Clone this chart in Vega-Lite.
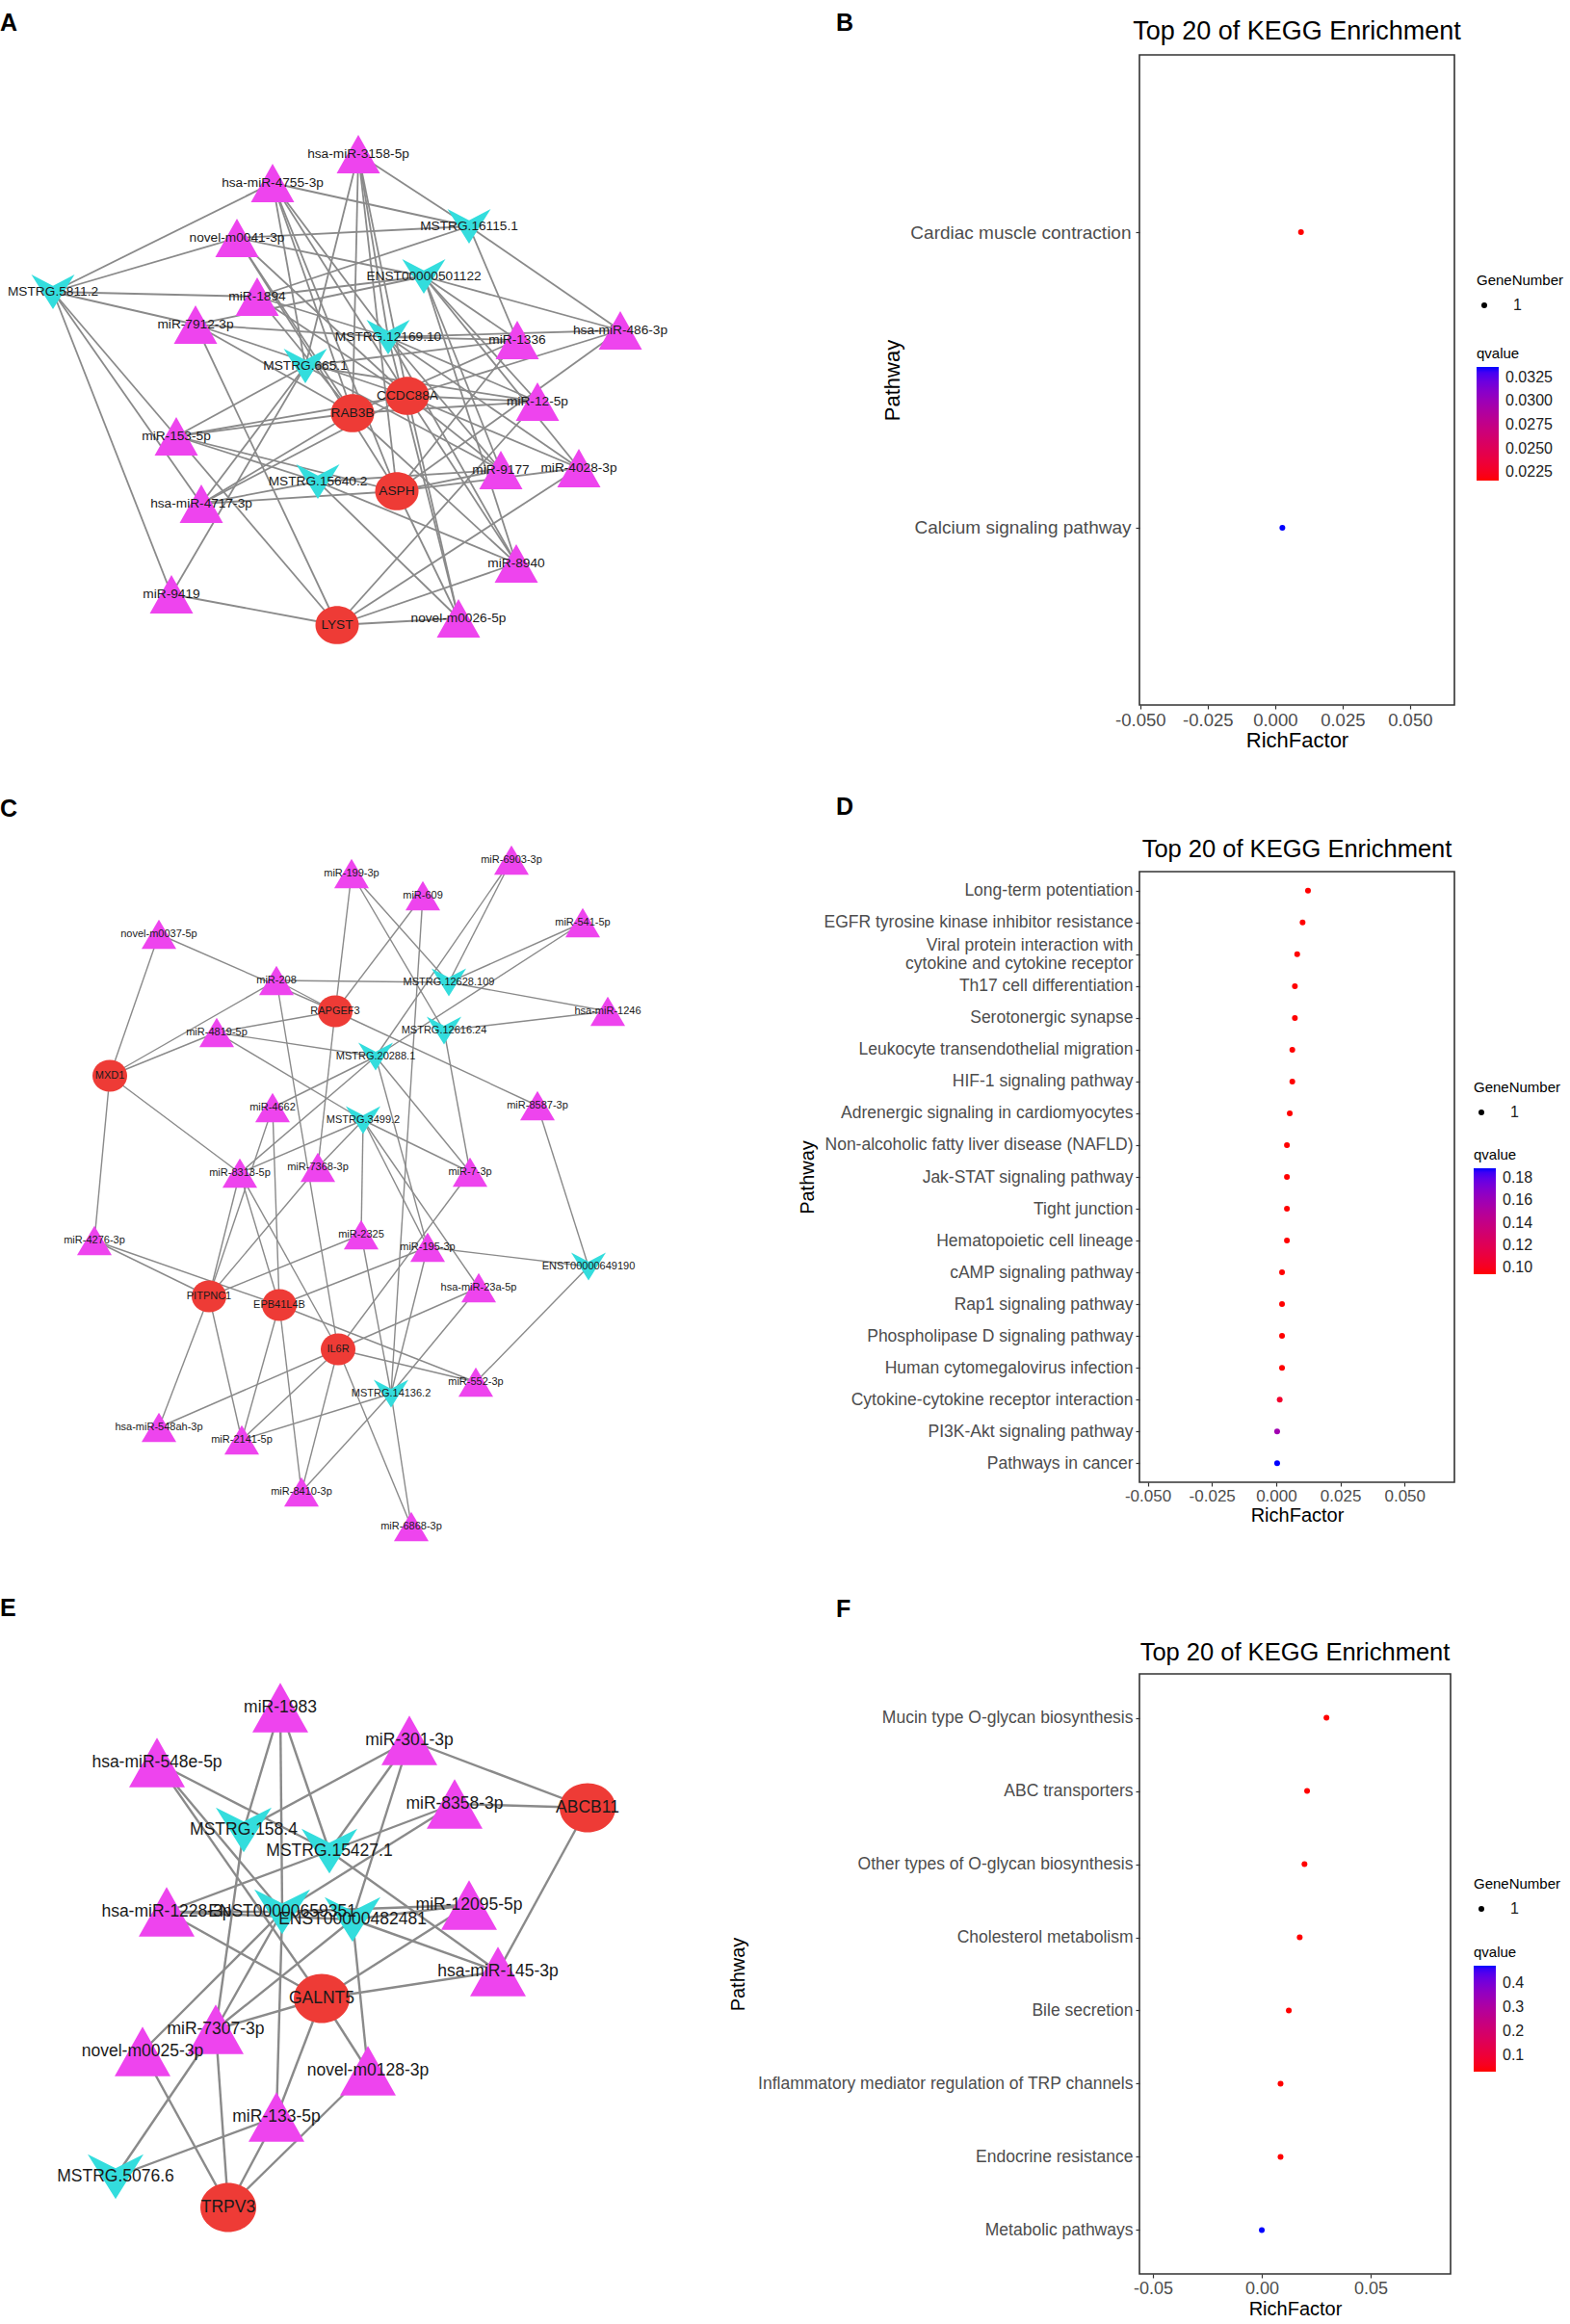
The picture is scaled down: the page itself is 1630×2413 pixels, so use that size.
{
  "$schema": "https://vega.github.io/schema/vega-lite/v6.json",
  "padding": 0,
  "background": "white",
  "config": {
    "font": "Liberation Sans",
    "view": {"stroke": null},
    "legend": {"symbolBaseFillColor": "black", "symbolBaseStrokeColor": "black"}
  },
  "datasets": {
    "nodesA": [
      {"id": "hsa-miR-3158-5p", "type": "mirna", "x": 372, "y": 160},
      {"id": "hsa-miR-4755-3p", "type": "mirna", "x": 283, "y": 190},
      {"id": "novel-m0041-3p", "type": "mirna", "x": 246, "y": 247},
      {"id": "miR-1894", "type": "mirna", "x": 267, "y": 308},
      {"id": "miR-7912-3p", "type": "mirna", "x": 203, "y": 337},
      {"id": "miR-1336", "type": "mirna", "x": 537, "y": 353},
      {"id": "hsa-miR-486-3p", "type": "mirna", "x": 644, "y": 343},
      {"id": "miR-12-5p", "type": "mirna", "x": 558, "y": 417},
      {"id": "miR-153-5p", "type": "mirna", "x": 183, "y": 453},
      {"id": "miR-9177", "type": "mirna", "x": 520, "y": 488},
      {"id": "miR-4028-3p", "type": "mirna", "x": 601, "y": 486},
      {"id": "hsa-miR-4717-3p", "type": "mirna", "x": 209, "y": 523},
      {"id": "miR-8940", "type": "mirna", "x": 536, "y": 585},
      {"id": "miR-9419", "type": "mirna", "x": 178, "y": 617},
      {"id": "novel-m0026-5p", "type": "mirna", "x": 476, "y": 642},
      {"id": "MSTRG.16115.1", "type": "lnc", "x": 487, "y": 235},
      {"id": "ENST00000501122", "type": "lnc", "x": 440, "y": 287},
      {"id": "MSTRG.5811.2", "type": "lnc", "x": 55, "y": 303},
      {"id": "MSTRG.12169.10", "type": "lnc", "x": 403, "y": 350},
      {"id": "MSTRG.665.1", "type": "lnc", "x": 317, "y": 380},
      {"id": "MSTRG.15640.2", "type": "lnc", "x": 330, "y": 500},
      {"id": "CCDC88A", "type": "mrna", "x": 423, "y": 411},
      {"id": "RAB3B", "type": "mrna", "x": 366, "y": 429},
      {"id": "ASPH", "type": "mrna", "x": 412, "y": 510},
      {"id": "LYST", "type": "mrna", "x": 350, "y": 649}
    ],
    "edgesA": [
      {"s": "hsa-miR-3158-5p", "t": "MSTRG.16115.1"}, {"s": "hsa-miR-3158-5p", "t": "MSTRG.12169.10"}, {"s": "hsa-miR-3158-5p", "t": "MSTRG.665.1"}, {"s": "hsa-miR-3158-5p", "t": "CCDC88A"}, {"s": "hsa-miR-3158-5p", "t": "RAB3B"}, {"s": "hsa-miR-3158-5p", "t": "ASPH"},
      {"s": "hsa-miR-4755-3p", "t": "MSTRG.5811.2"}, {"s": "hsa-miR-4755-3p", "t": "MSTRG.16115.1"}, {"s": "hsa-miR-4755-3p", "t": "MSTRG.12169.10"}, {"s": "hsa-miR-4755-3p", "t": "MSTRG.665.1"}, {"s": "hsa-miR-4755-3p", "t": "RAB3B"}, {"s": "hsa-miR-4755-3p", "t": "CCDC88A"}, {"s": "hsa-miR-4755-3p", "t": "ASPH"},
      {"s": "novel-m0041-3p", "t": "MSTRG.5811.2"}, {"s": "novel-m0041-3p", "t": "MSTRG.16115.1"}, {"s": "novel-m0041-3p", "t": "ENST00000501122"}, {"s": "novel-m0041-3p", "t": "RAB3B"}, {"s": "novel-m0041-3p", "t": "CCDC88A"}, {"s": "novel-m0041-3p", "t": "ASPH"},
      {"s": "miR-1894", "t": "MSTRG.5811.2"}, {"s": "miR-1894", "t": "MSTRG.16115.1"}, {"s": "miR-1894", "t": "ENST00000501122"}, {"s": "miR-1894", "t": "MSTRG.12169.10"}, {"s": "miR-1894", "t": "RAB3B"}, {"s": "miR-1894", "t": "CCDC88A"},
      {"s": "miR-7912-3p", "t": "MSTRG.5811.2"}, {"s": "miR-7912-3p", "t": "ENST00000501122"}, {"s": "miR-7912-3p", "t": "MSTRG.12169.10"}, {"s": "miR-7912-3p", "t": "RAB3B"}, {"s": "miR-7912-3p", "t": "CCDC88A"}, {"s": "miR-7912-3p", "t": "LYST"},
      {"s": "miR-1336", "t": "MSTRG.16115.1"}, {"s": "miR-1336", "t": "ENST00000501122"}, {"s": "miR-1336", "t": "MSTRG.12169.10"}, {"s": "miR-1336", "t": "MSTRG.665.1"}, {"s": "miR-1336", "t": "RAB3B"}, {"s": "miR-1336", "t": "ASPH"},
      {"s": "hsa-miR-486-3p", "t": "MSTRG.16115.1"}, {"s": "hsa-miR-486-3p", "t": "ENST00000501122"}, {"s": "hsa-miR-486-3p", "t": "MSTRG.12169.10"}, {"s": "hsa-miR-486-3p", "t": "CCDC88A"}, {"s": "hsa-miR-486-3p", "t": "ASPH"},
      {"s": "miR-12-5p", "t": "ENST00000501122"}, {"s": "miR-12-5p", "t": "MSTRG.12169.10"}, {"s": "miR-12-5p", "t": "MSTRG.665.1"}, {"s": "miR-12-5p", "t": "RAB3B"}, {"s": "miR-12-5p", "t": "CCDC88A"}, {"s": "miR-12-5p", "t": "LYST"},
      {"s": "miR-153-5p", "t": "MSTRG.5811.2"}, {"s": "miR-153-5p", "t": "MSTRG.665.1"}, {"s": "miR-153-5p", "t": "MSTRG.15640.2"}, {"s": "miR-153-5p", "t": "RAB3B"}, {"s": "miR-153-5p", "t": "CCDC88A"}, {"s": "miR-153-5p", "t": "ASPH"}, {"s": "miR-153-5p", "t": "LYST"},
      {"s": "miR-9177", "t": "ENST00000501122"}, {"s": "miR-9177", "t": "MSTRG.12169.10"}, {"s": "miR-9177", "t": "MSTRG.665.1"}, {"s": "miR-9177", "t": "MSTRG.15640.2"}, {"s": "miR-9177", "t": "CCDC88A"}, {"s": "miR-9177", "t": "ASPH"},
      {"s": "miR-4028-3p", "t": "ENST00000501122"}, {"s": "miR-4028-3p", "t": "MSTRG.12169.10"}, {"s": "miR-4028-3p", "t": "CCDC88A"}, {"s": "miR-4028-3p", "t": "ASPH"}, {"s": "miR-4028-3p", "t": "LYST"},
      {"s": "hsa-miR-4717-3p", "t": "MSTRG.5811.2"}, {"s": "hsa-miR-4717-3p", "t": "MSTRG.665.1"}, {"s": "hsa-miR-4717-3p", "t": "MSTRG.15640.2"}, {"s": "hsa-miR-4717-3p", "t": "RAB3B"}, {"s": "hsa-miR-4717-3p", "t": "CCDC88A"}, {"s": "hsa-miR-4717-3p", "t": "ASPH"},
      {"s": "miR-8940", "t": "ENST00000501122"}, {"s": "miR-8940", "t": "MSTRG.12169.10"}, {"s": "miR-8940", "t": "MSTRG.15640.2"}, {"s": "miR-8940", "t": "RAB3B"}, {"s": "miR-8940", "t": "CCDC88A"}, {"s": "miR-8940", "t": "LYST"},
      {"s": "miR-9419", "t": "MSTRG.5811.2"}, {"s": "miR-9419", "t": "MSTRG.665.1"}, {"s": "miR-9419", "t": "LYST"},
      {"s": "novel-m0026-5p", "t": "MSTRG.12169.10"}, {"s": "novel-m0026-5p", "t": "MSTRG.15640.2"}, {"s": "novel-m0026-5p", "t": "CCDC88A"}, {"s": "novel-m0026-5p", "t": "ASPH"}, {"s": "novel-m0026-5p", "t": "LYST"}
    ],
    "nodesC": [
      {"id": "miR-199-3p", "type": "mirna", "x": 365, "y": 907},
      {"id": "miR-6903-3p", "type": "mirna", "x": 531, "y": 893},
      {"id": "miR-609", "type": "mirna", "x": 439, "y": 930},
      {"id": "miR-541-5p", "type": "mirna", "x": 605, "y": 958},
      {"id": "novel-m0037-5p", "type": "mirna", "x": 165, "y": 970},
      {"id": "miR-208", "type": "mirna", "x": 287, "y": 1018},
      {"id": "hsa-miR-1246", "type": "mirna", "x": 631, "y": 1050},
      {"id": "miR-4819-5p", "type": "mirna", "x": 225, "y": 1072},
      {"id": "miR-4662", "type": "mirna", "x": 283, "y": 1150},
      {"id": "miR-8587-3p", "type": "mirna", "x": 558, "y": 1148},
      {"id": "miR-8313-5p", "type": "mirna", "x": 249, "y": 1218},
      {"id": "miR-7368-3p", "type": "mirna", "x": 330, "y": 1212},
      {"id": "miR-7-3p", "type": "mirna", "x": 488, "y": 1217},
      {"id": "miR-4276-3p", "type": "mirna", "x": 98, "y": 1288},
      {"id": "miR-2325", "type": "mirna", "x": 375, "y": 1282},
      {"id": "miR-195-3p", "type": "mirna", "x": 444, "y": 1295},
      {"id": "hsa-miR-23a-5p", "type": "mirna", "x": 497, "y": 1337},
      {"id": "miR-552-3p", "type": "mirna", "x": 494, "y": 1435},
      {"id": "hsa-miR-548ah-3p", "type": "mirna", "x": 165, "y": 1482},
      {"id": "miR-2141-5p", "type": "mirna", "x": 251, "y": 1495},
      {"id": "miR-8410-3p", "type": "mirna", "x": 313, "y": 1549},
      {"id": "miR-6868-3p", "type": "mirna", "x": 427, "y": 1585},
      {"id": "MSTRG.12628.109", "type": "lnc", "x": 466, "y": 1020},
      {"id": "MSTRG.12616.24", "type": "lnc", "x": 461, "y": 1070},
      {"id": "MSTRG.20288.1", "type": "lnc", "x": 390, "y": 1097},
      {"id": "MSTRG.3499.2", "type": "lnc", "x": 377, "y": 1163},
      {"id": "ENST00000649190", "type": "lnc", "x": 611, "y": 1315},
      {"id": "MSTRG.14136.2", "type": "lnc", "x": 406, "y": 1447},
      {"id": "RAPGEF3", "type": "mrna", "x": 348, "y": 1050},
      {"id": "MXD1", "type": "mrna", "x": 114, "y": 1117},
      {"id": "PITPNC1", "type": "mrna", "x": 217, "y": 1346},
      {"id": "EPB41L4B", "type": "mrna", "x": 290, "y": 1355},
      {"id": "IL6R", "type": "mrna", "x": 351, "y": 1401}
    ],
    "edgesC": [
      {"s": "miR-199-3p", "t": "RAPGEF3"}, {"s": "miR-199-3p", "t": "MSTRG.12628.109"}, {"s": "miR-199-3p", "t": "MSTRG.12616.24"},
      {"s": "miR-6903-3p", "t": "MSTRG.12628.109"}, {"s": "miR-6903-3p", "t": "MSTRG.20288.1"},
      {"s": "miR-609", "t": "RAPGEF3"}, {"s": "miR-609", "t": "MSTRG.14136.2"},
      {"s": "miR-541-5p", "t": "MSTRG.12628.109"}, {"s": "miR-541-5p", "t": "MSTRG.20288.1"},
      {"s": "novel-m0037-5p", "t": "MXD1"}, {"s": "novel-m0037-5p", "t": "RAPGEF3"},
      {"s": "miR-208", "t": "MXD1"}, {"s": "miR-208", "t": "MSTRG.12628.109"}, {"s": "miR-208", "t": "RAPGEF3"}, {"s": "miR-208", "t": "IL6R"},
      {"s": "hsa-miR-1246", "t": "MSTRG.12628.109"}, {"s": "hsa-miR-1246", "t": "MSTRG.12616.24"},
      {"s": "miR-4819-5p", "t": "MXD1"}, {"s": "miR-4819-5p", "t": "RAPGEF3"}, {"s": "miR-4819-5p", "t": "MSTRG.20288.1"}, {"s": "miR-4819-5p", "t": "MSTRG.3499.2"},
      {"s": "miR-4662", "t": "MSTRG.20288.1"}, {"s": "miR-4662", "t": "EPB41L4B"}, {"s": "miR-4662", "t": "PITPNC1"},
      {"s": "miR-8587-3p", "t": "RAPGEF3"}, {"s": "miR-8587-3p", "t": "ENST00000649190"},
      {"s": "miR-8313-5p", "t": "MXD1"}, {"s": "miR-8313-5p", "t": "MSTRG.20288.1"}, {"s": "miR-8313-5p", "t": "MSTRG.3499.2"}, {"s": "miR-8313-5p", "t": "PITPNC1"}, {"s": "miR-8313-5p", "t": "EPB41L4B"}, {"s": "miR-8313-5p", "t": "IL6R"},
      {"s": "miR-7368-3p", "t": "RAPGEF3"}, {"s": "miR-7368-3p", "t": "MSTRG.3499.2"}, {"s": "miR-7368-3p", "t": "PITPNC1"},
      {"s": "miR-7-3p", "t": "MSTRG.20288.1"}, {"s": "miR-7-3p", "t": "MSTRG.3499.2"}, {"s": "miR-7-3p", "t": "MSTRG.12616.24"}, {"s": "miR-7-3p", "t": "IL6R"},
      {"s": "miR-4276-3p", "t": "MXD1"}, {"s": "miR-4276-3p", "t": "PITPNC1"}, {"s": "miR-4276-3p", "t": "EPB41L4B"},
      {"s": "miR-2325", "t": "MSTRG.3499.2"}, {"s": "miR-2325", "t": "PITPNC1"}, {"s": "miR-2325", "t": "MSTRG.14136.2"},
      {"s": "miR-195-3p", "t": "MSTRG.3499.2"}, {"s": "miR-195-3p", "t": "ENST00000649190"}, {"s": "miR-195-3p", "t": "EPB41L4B"}, {"s": "miR-195-3p", "t": "MSTRG.14136.2"}, {"s": "miR-195-3p", "t": "MSTRG.20288.1"},
      {"s": "hsa-miR-23a-5p", "t": "IL6R"}, {"s": "hsa-miR-23a-5p", "t": "MSTRG.14136.2"}, {"s": "hsa-miR-23a-5p", "t": "MSTRG.3499.2"},
      {"s": "miR-552-3p", "t": "IL6R"}, {"s": "miR-552-3p", "t": "EPB41L4B"}, {"s": "miR-552-3p", "t": "ENST00000649190"},
      {"s": "hsa-miR-548ah-3p", "t": "PITPNC1"}, {"s": "hsa-miR-548ah-3p", "t": "IL6R"},
      {"s": "miR-2141-5p", "t": "PITPNC1"}, {"s": "miR-2141-5p", "t": "EPB41L4B"}, {"s": "miR-2141-5p", "t": "IL6R"}, {"s": "miR-2141-5p", "t": "MSTRG.14136.2"},
      {"s": "miR-8410-3p", "t": "EPB41L4B"}, {"s": "miR-8410-3p", "t": "IL6R"}, {"s": "miR-8410-3p", "t": "MSTRG.14136.2"},
      {"s": "miR-6868-3p", "t": "IL6R"}, {"s": "miR-6868-3p", "t": "MSTRG.14136.2"}
    ],
    "nodesE": [
      {"id": "miR-1983", "type": "mirna", "x": 291, "y": 1773},
      {"id": "miR-301-3p", "type": "mirna", "x": 425, "y": 1807},
      {"id": "hsa-miR-548e-5p", "type": "mirna", "x": 163, "y": 1830},
      {"id": "miR-8358-3p", "type": "mirna", "x": 472, "y": 1873},
      {"id": "miR-12095-5p", "type": "mirna", "x": 487, "y": 1978},
      {"id": "hsa-miR-1228-3p", "type": "mirna", "x": 173, "y": 1985},
      {"id": "hsa-miR-145-3p", "type": "mirna", "x": 517, "y": 2047},
      {"id": "miR-7307-3p", "type": "mirna", "x": 224, "y": 2107},
      {"id": "novel-m0025-3p", "type": "mirna", "x": 148, "y": 2130},
      {"id": "novel-m0128-3p", "type": "mirna", "x": 382, "y": 2150},
      {"id": "miR-133-5p", "type": "mirna", "x": 287, "y": 2198},
      {"id": "MSTRG.158.4", "type": "lnc", "x": 253, "y": 1900},
      {"id": "MSTRG.15427.1", "type": "lnc", "x": 342, "y": 1922},
      {"id": "ENST00000659351", "type": "lnc", "x": 293, "y": 1985},
      {"id": "ENST00000482481", "type": "lnc", "x": 366, "y": 1993},
      {"id": "MSTRG.5076.6", "type": "lnc", "x": 120, "y": 2260},
      {"id": "ABCB11", "type": "mrna", "x": 610, "y": 1877},
      {"id": "GALNT5", "type": "mrna", "x": 334, "y": 2075},
      {"id": "TRPV3", "type": "mrna", "x": 237, "y": 2292}
    ],
    "edgesE": [
      {"s": "miR-1983", "t": "MSTRG.158.4"}, {"s": "miR-1983", "t": "ENST00000659351"}, {"s": "miR-1983", "t": "MSTRG.15427.1"},
      {"s": "miR-301-3p", "t": "ABCB11"}, {"s": "miR-301-3p", "t": "MSTRG.158.4"}, {"s": "miR-301-3p", "t": "MSTRG.15427.1"}, {"s": "miR-301-3p", "t": "ENST00000482481"},
      {"s": "hsa-miR-548e-5p", "t": "MSTRG.15427.1"}, {"s": "hsa-miR-548e-5p", "t": "ENST00000659351"}, {"s": "hsa-miR-548e-5p", "t": "GALNT5"},
      {"s": "miR-8358-3p", "t": "ABCB11"}, {"s": "miR-8358-3p", "t": "MSTRG.15427.1"}, {"s": "miR-8358-3p", "t": "ENST00000659351"},
      {"s": "miR-12095-5p", "t": "ENST00000482481"}, {"s": "miR-12095-5p", "t": "ENST00000659351"}, {"s": "miR-12095-5p", "t": "GALNT5"},
      {"s": "hsa-miR-1228-3p", "t": "ENST00000659351"}, {"s": "hsa-miR-1228-3p", "t": "MSTRG.15427.1"}, {"s": "hsa-miR-1228-3p", "t": "GALNT5"}, {"s": "hsa-miR-1228-3p", "t": "ENST00000482481"},
      {"s": "hsa-miR-145-3p", "t": "GALNT5"}, {"s": "hsa-miR-145-3p", "t": "MSTRG.15427.1"}, {"s": "hsa-miR-145-3p", "t": "ENST00000482481"}, {"s": "hsa-miR-145-3p", "t": "ABCB11"},
      {"s": "miR-7307-3p", "t": "GALNT5"}, {"s": "miR-7307-3p", "t": "MSTRG.158.4"}, {"s": "miR-7307-3p", "t": "ENST00000659351"}, {"s": "miR-7307-3p", "t": "TRPV3"}, {"s": "miR-7307-3p", "t": "ENST00000482481"}, {"s": "miR-7307-3p", "t": "MSTRG.5076.6"},
      {"s": "novel-m0025-3p", "t": "ENST00000659351"}, {"s": "novel-m0025-3p", "t": "TRPV3"},
      {"s": "novel-m0128-3p", "t": "GALNT5"}, {"s": "novel-m0128-3p", "t": "ENST00000482481"}, {"s": "novel-m0128-3p", "t": "TRPV3"},
      {"s": "miR-133-5p", "t": "GALNT5"}, {"s": "miR-133-5p", "t": "ENST00000659351"}, {"s": "miR-133-5p", "t": "MSTRG.5076.6"}, {"s": "miR-133-5p", "t": "TRPV3"}
    ],
    "keggB": [
      {"pathway": "Cardiac muscle contraction", "RichFactor": 0.0096, "qvalue": 0.0216, "GeneNumber": 1},
      {"pathway": "Calcium signaling pathway", "RichFactor": 0.0027, "qvalue": 0.0336, "GeneNumber": 1}
    ],
    "keggD": [
      {"pathway": "Long-term potentiation", "RichFactor": 0.0124, "qvalue": 0.094, "GeneNumber": 1},
      {"pathway": "EGFR tyrosine kinase inhibitor resistance", "RichFactor": 0.0103, "qvalue": 0.094, "GeneNumber": 1},
      {"pathway": "Viral protein interaction with\ncytokine and cytokine receptor", "RichFactor": 0.0082, "qvalue": 0.094, "GeneNumber": 1},
      {"pathway": "Th17 cell differentiation", "RichFactor": 0.0073, "qvalue": 0.094, "GeneNumber": 1},
      {"pathway": "Serotonergic synapse", "RichFactor": 0.0073, "qvalue": 0.094, "GeneNumber": 1},
      {"pathway": "Leukocyte transendothelial migration", "RichFactor": 0.0063, "qvalue": 0.094, "GeneNumber": 1},
      {"pathway": "HIF-1 signaling pathway", "RichFactor": 0.0063, "qvalue": 0.094, "GeneNumber": 1},
      {"pathway": "Adrenergic signaling in cardiomyocytes", "RichFactor": 0.0053, "qvalue": 0.094, "GeneNumber": 1},
      {"pathway": "Non-alcoholic fatty liver disease (NAFLD)", "RichFactor": 0.0042, "qvalue": 0.094, "GeneNumber": 1},
      {"pathway": "Jak-STAT signaling pathway", "RichFactor": 0.0042, "qvalue": 0.094, "GeneNumber": 1},
      {"pathway": "Tight junction", "RichFactor": 0.0042, "qvalue": 0.094, "GeneNumber": 1},
      {"pathway": "Hematopoietic cell lineage", "RichFactor": 0.0042, "qvalue": 0.094, "GeneNumber": 1},
      {"pathway": "cAMP signaling pathway", "RichFactor": 0.0023, "qvalue": 0.094, "GeneNumber": 1},
      {"pathway": "Rap1 signaling pathway", "RichFactor": 0.0023, "qvalue": 0.094, "GeneNumber": 1},
      {"pathway": "Phospholipase D signaling pathway", "RichFactor": 0.0023, "qvalue": 0.094, "GeneNumber": 1},
      {"pathway": "Human cytomegalovirus infection", "RichFactor": 0.0023, "qvalue": 0.094, "GeneNumber": 1},
      {"pathway": "Cytokine-cytokine receptor interaction", "RichFactor": 0.0014, "qvalue": 0.105, "GeneNumber": 1},
      {"pathway": "PI3K-Akt signaling pathway", "RichFactor": 0.0004, "qvalue": 0.158, "GeneNumber": 1},
      {"pathway": "Pathways in cancer", "RichFactor": 0.0004, "qvalue": 0.1886, "GeneNumber": 1}
    ],
    "keggF": [
      {"pathway": "Mucin type O-glycan biosynthesis", "RichFactor": 0.0297, "qvalue": 0.032, "GeneNumber": 1},
      {"pathway": "ABC transporters", "RichFactor": 0.0208, "qvalue": 0.032, "GeneNumber": 1},
      {"pathway": "Other types of O-glycan biosynthesis", "RichFactor": 0.0196, "qvalue": 0.032, "GeneNumber": 1},
      {"pathway": "Cholesterol metabolism", "RichFactor": 0.0174, "qvalue": 0.032, "GeneNumber": 1},
      {"pathway": "Bile secretion", "RichFactor": 0.0124, "qvalue": 0.032, "GeneNumber": 1},
      {"pathway": "Inflammatory mediator regulation of TRP channels", "RichFactor": 0.0086, "qvalue": 0.032, "GeneNumber": 1},
      {"pathway": "Endocrine resistance", "RichFactor": 0.0086, "qvalue": 0.032, "GeneNumber": 1},
      {"pathway": "Metabolic pathways", "RichFactor": 0.0, "qvalue": 0.472, "GeneNumber": 1}
    ]
  },
  "bounds": "flush",
  "spacing": 0,
  "resolve": {
    "scale": {"x": "independent", "y": "independent", "color": "independent", "shape": "independent", "size": "independent"},
    "legend": {"color": "independent", "size": "independent", "shape": "independent"}
  },
  "vconcat": [
    {
      "width": 327, "height": 57,
      "data": {"values": [{"letter": "A", "x": 0, "y": 24}, {"letter": "B", "x": 868, "y": 24}]},
      "mark": {"type": "text", "fontSize": 25, "fontWeight": "bold", "color": "black", "align": "left"},
      "encoding": {
        "x": {"field": "x", "type": "quantitative", "scale": {"domain": [1183, 1510], "nice": false, "zero": false}, "axis": null},
        "y": {"field": "y", "type": "quantitative", "scale": {"domain": [0, 57], "reverse": true, "nice": false, "zero": false}, "axis": null},
        "text": {"field": "letter"}
      }
    },
    {
      "width": 327, "height": 675,
      "view": {"stroke": "#333333", "strokeWidth": 1.6, "fill": "white"},
      "title": {"text": "Top 20 of KEGG Enrichment", "frame": "group", "fontSize": 27, "fontWeight": "normal", "color": "black", "anchor": "middle", "offset": 10},
      "resolve": {
        "scale": {"x": "independent", "y": "independent", "color": "independent", "shape": "independent", "size": "independent"},
        "axis": {"x": "independent", "y": "independent"},
        "legend": {"color": "independent", "size": "independent", "shape": "independent"}
      },
      "layer": [
        {
          "data": {"name": "edgesA"},
          "transform": [
            {"lookup": "s", "from": {"data": {"name": "nodesA"}, "key": "id", "fields": ["x", "y"]}, "as": ["sx", "sy"]},
            {"lookup": "t", "from": {"data": {"name": "nodesA"}, "key": "id", "fields": ["x", "y"]}, "as": ["tx", "ty"]}
          ],
          "mark": {"type": "rule", "color": "#8a8a8a", "strokeWidth": 1.8},
          "encoding": {
            "x": {"field": "sx", "type": "quantitative", "scale": {"domain": [1183, 1510], "nice": false, "zero": false}, "axis": null},
            "y": {"field": "sy", "type": "quantitative", "scale": {"domain": [57, 732], "reverse": true, "nice": false, "zero": false}, "axis": null},
            "x2": {"field": "tx"},
            "y2": {"field": "ty"}
          }
        },
        {
          "data": {"name": "nodesA"},
          "mark": {"type": "point", "filled": true, "opacity": 1, "size": 2025, "strokeWidth": 0},
          "encoding": {
            "x": {"field": "x", "type": "quantitative", "scale": {"domain": [1183, 1510], "nice": false, "zero": false}, "axis": null},
            "y": {"field": "y", "type": "quantitative", "scale": {"domain": [57, 732], "reverse": true, "nice": false, "zero": false}, "axis": null},
            "shape": {"field": "type", "type": "nominal", "scale": {"domain": ["mirna", "lnc", "mrna"], "range": ["M0,-0.89L1,0.89L-1,0.89Z", "M-1,-0.8L0,-0.28L1,-0.8L0,0.8Z", "M-1,0A1,0.88,0,1,1,1,0A1,0.88,0,1,1,-1,0Z"]}, "legend": null},
            "color": {"field": "type", "type": "nominal", "scale": {"domain": ["mirna", "lnc", "mrna"], "range": ["#EE44EE", "#33DDDD", "#EE3B36"]}, "legend": null}
          }
        },
        {
          "data": {"name": "nodesA"},
          "mark": {"type": "text", "fontSize": 13.7, "color": "#1a1a1a"},
          "encoding": {
            "x": {"field": "x", "type": "quantitative", "scale": {"domain": [1183, 1510], "nice": false, "zero": false}, "axis": null},
            "y": {"field": "y", "type": "quantitative", "scale": {"domain": [57, 732], "reverse": true, "nice": false, "zero": false}, "axis": null},
            "text": {"field": "id"}
          }
        },
        {
          "data": {"name": "keggB"},
          "mark": {"type": "circle", "opacity": 1},
          "encoding": {
            "x": {
              "field": "RichFactor", "type": "quantitative",
              "scale": {"domain": [-0.0503, 0.0665], "nice": false, "zero": false},
              "axis": {
                "title": "RichFactor",
                "values": [-0.05, -0.0375, -0.025, -0.0125, 0, 0.0125, 0.025, 0.0375, 0.05, 0.0625],
                "labelExpr": "abs(datum.value/0.025 - round(datum.value/0.025)) < 0.01 ? replace(format(datum.value, '.3f'), '−', '-') : ''",
                "tickOpacity": {"condition": {"test": "abs(datum.value/0.025 - round(datum.value/0.025)) < 0.01", "value": 1}, "value": 0},
                "gridWidth": {"condition": {"test": "abs(datum.value/0.025 - round(datum.value/0.025)) < 0.01", "value": 1.2}, "value": 0.6},
                "gridColor": "#EBEBEB",
                "domain": false,
                "tickColor": "#333333", "tickSize": 4, "tickWidth": 1.2,
                "labelFontSize": 18.5, "labelColor": "#4D4D4D", "labelPadding": 2, "labelFlush": false, "labelOverlap": false,
                "titleFontSize": 22, "titleFontWeight": "normal", "titleColor": "black", "titlePadding": 2
              }
            },
            "y": {
              "field": "pathway", "type": "nominal", "sort": null,
              "scale": {"type": "point", "padding": 0.6},
              "axis": {
                "title": "Pathway", "titleX": -257, "titleY": 337.5, "titleAngle": 270, "titleAlign": "center", "titleBaseline": "middle",
                "titleFontSize": 22, "titleFontWeight": "normal", "titleColor": "black",
                "labelFontSize": 19, "labelColor": "#4D4D4D", "labelLimit": 700, "labelPadding": 5,
                "tickColor": "#333333", "tickSize": 4, "tickWidth": 1.2,
                "gridColor": "#EBEBEB", "gridWidth": 1.2, "domain": false
              }
            },
            "color": {
              "field": "qvalue", "type": "quantitative",
              "scale": {"domain": [0.0216, 0.0336], "range": ["#FF0000", "#0000FF"], "interpolate": "lab"},
              "legend": {
                "title": "qvalue", "orient": "none", "legendX": 350, "legendY": 303, "direction": "vertical",
                "gradientLength": 118, "gradientThickness": 23, "gradientStrokeWidth": 0,
                "titleFontSize": 15, "titleFontWeight": "normal", "titleColor": "black", "titlePadding": 6,
                "labelFontSize": 16, "labelColor": "#222222", "labelOffset": 7, "labelOverlap": false,
                "values": [0.0225, 0.025, 0.0275, 0.03, 0.0325], "format": ".4f", "padding": 0
              }
            },
            "size": {
              "field": "GeneNumber", "type": "quantitative",
              "scale": {"domain": [0, 1], "range": [0, 36]},
              "legend": {
                "title": "GeneNumber", "orient": "none", "legendX": 350, "legendY": 227,
                "values": [1], "format": ".0f", "symbolType": "circle", "symbolFillColor": "black", "symbolStrokeColor": "black", "symbolStrokeWidth": 0,
                "titleFontSize": 15, "titleFontWeight": "normal", "titleColor": "black", "titlePadding": 10,
                "labelFontSize": 16, "labelColor": "#222222", "labelOffset": 22, "padding": 0
              }
            }
          }
        }
      ]
    },
    {
      "width": 327, "height": 173,
      "data": {"values": [{"letter": "C", "x": 0, "y": 840}, {"letter": "D", "x": 868, "y": 838}]},
      "mark": {"type": "text", "fontSize": 25, "fontWeight": "bold", "color": "black", "align": "left"},
      "encoding": {
        "x": {"field": "x", "type": "quantitative", "scale": {"domain": [1183, 1510], "nice": false, "zero": false}, "axis": null},
        "y": {"field": "y", "type": "quantitative", "scale": {"domain": [732, 905], "reverse": true, "nice": false, "zero": false}, "axis": null},
        "text": {"field": "letter"}
      }
    },
    {
      "width": 327, "height": 634,
      "view": {"stroke": "#333333", "strokeWidth": 1.6, "fill": "white"},
      "title": {"text": "Top 20 of KEGG Enrichment", "frame": "group", "fontSize": 25.5, "fontWeight": "normal", "color": "black", "anchor": "middle", "offset": -18.3},
      "resolve": {
        "scale": {"x": "independent", "y": "independent", "color": "independent", "shape": "independent", "size": "independent"},
        "axis": {"x": "independent", "y": "independent"},
        "legend": {"color": "independent", "size": "independent", "shape": "independent"}
      },
      "layer": [
        {
          "data": {"name": "edgesC"},
          "transform": [
            {"lookup": "s", "from": {"data": {"name": "nodesC"}, "key": "id", "fields": ["x", "y"]}, "as": ["sx", "sy"]},
            {"lookup": "t", "from": {"data": {"name": "nodesC"}, "key": "id", "fields": ["x", "y"]}, "as": ["tx", "ty"]}
          ],
          "mark": {"type": "rule", "color": "#8a8a8a", "strokeWidth": 1.4},
          "encoding": {
            "x": {"field": "sx", "type": "quantitative", "scale": {"domain": [1183, 1510], "nice": false, "zero": false}, "axis": null},
            "y": {"field": "sy", "type": "quantitative", "scale": {"domain": [905, 1539], "reverse": true, "nice": false, "zero": false}, "axis": null},
            "x2": {"field": "tx"},
            "y2": {"field": "ty"}
          }
        },
        {
          "data": {"name": "nodesC"},
          "mark": {"type": "point", "filled": true, "opacity": 1, "size": 1300, "strokeWidth": 0},
          "encoding": {
            "x": {"field": "x", "type": "quantitative", "scale": {"domain": [1183, 1510], "nice": false, "zero": false}, "axis": null},
            "y": {"field": "y", "type": "quantitative", "scale": {"domain": [905, 1539], "reverse": true, "nice": false, "zero": false}, "axis": null},
            "shape": {"field": "type", "type": "nominal", "scale": {"domain": ["mirna", "lnc", "mrna"], "range": ["M0,-0.85L1,0.85L-1,0.85Z", "M-1,-0.8L0,-0.28L1,-0.8L0,0.8Z", "M-1,0A1,0.92,0,1,1,1,0A1,0.92,0,1,1,-1,0Z"]}, "legend": null},
            "color": {"field": "type", "type": "nominal", "scale": {"domain": ["mirna", "lnc", "mrna"], "range": ["#EE44EE", "#33DDDD", "#EE3B36"]}, "legend": null}
          }
        },
        {
          "data": {"name": "nodesC"},
          "mark": {"type": "text", "fontSize": 11, "color": "#1a1a1a"},
          "encoding": {
            "x": {"field": "x", "type": "quantitative", "scale": {"domain": [1183, 1510], "nice": false, "zero": false}, "axis": null},
            "y": {"field": "y", "type": "quantitative", "scale": {"domain": [905, 1539], "reverse": true, "nice": false, "zero": false}, "axis": null},
            "text": {"field": "id"}
          }
        },
        {
          "data": {"name": "keggD"},
          "mark": {"type": "circle", "opacity": 1},
          "encoding": {
            "x": {
              "field": "RichFactor", "type": "quantitative",
              "scale": {"domain": [-0.0532, 0.0694], "nice": false, "zero": false},
              "axis": {
                "title": "RichFactor",
                "values": [-0.05, -0.0375, -0.025, -0.0125, 0, 0.0125, 0.025, 0.0375, 0.05, 0.0625],
                "labelExpr": "abs(datum.value/0.025 - round(datum.value/0.025)) < 0.01 ? replace(format(datum.value, '.3f'), '−', '-') : ''",
                "tickOpacity": {"condition": {"test": "abs(datum.value/0.025 - round(datum.value/0.025)) < 0.01", "value": 1}, "value": 0},
                "gridWidth": {"condition": {"test": "abs(datum.value/0.025 - round(datum.value/0.025)) < 0.01", "value": 1.2}, "value": 0.6},
                "gridColor": "#EBEBEB",
                "domain": false,
                "tickColor": "#333333", "tickSize": 4, "tickWidth": 1.2,
                "labelFontSize": 17, "labelColor": "#4D4D4D", "labelPadding": 2, "labelFlush": false, "labelOverlap": false,
                "titleFontSize": 20, "titleFontWeight": "normal", "titleColor": "black", "titlePadding": 2
              }
            },
            "y": {
              "field": "pathway", "type": "nominal", "sort": null,
              "scale": {"type": "point", "padding": 0.6},
              "axis": {
                "title": "Pathway", "titleX": -345, "titleY": 317, "titleAngle": 270, "titleAlign": "center", "titleBaseline": "middle",
                "titleFontSize": 20, "titleFontWeight": "normal", "titleColor": "black",
                "labelFontSize": 17.5, "labelColor": "#4D4D4D", "labelLimit": 700, "labelPadding": 3, "labelLineHeight": 19,
                "labelExpr": "split(datum.label, '\\n')",
                "labelOffset": {"condition": {"test": "indexof(datum.label, '\\n') >= 0", "value": -9.5}, "value": 0},
                "tickColor": "#333333", "tickSize": 4, "tickWidth": 1.2,
                "gridColor": "#EBEBEB", "gridWidth": 1.2, "domain": false
              }
            },
            "color": {
              "field": "qvalue", "type": "quantitative",
              "scale": {"domain": [0.094, 0.1886], "range": ["#FF0000", "#0000FF"], "interpolate": "lab"},
              "legend": {
                "title": "qvalue", "orient": "none", "legendX": 347, "legendY": 287, "direction": "vertical",
                "gradientLength": 110, "gradientThickness": 23, "gradientStrokeWidth": 0,
                "titleFontSize": 15, "titleFontWeight": "normal", "titleColor": "black", "titlePadding": 6,
                "labelFontSize": 16, "labelColor": "#222222", "labelOffset": 7, "labelOverlap": false,
                "values": [0.1, 0.12, 0.14, 0.16, 0.18], "format": ".2f", "padding": 0
              }
            },
            "size": {
              "field": "GeneNumber", "type": "quantitative",
              "scale": {"domain": [0, 1], "range": [0, 36]},
              "legend": {
                "title": "GeneNumber", "orient": "none", "legendX": 347, "legendY": 217,
                "values": [1], "format": ".0f", "symbolType": "circle", "symbolFillColor": "black", "symbolStrokeColor": "black", "symbolStrokeWidth": 0,
                "titleFontSize": 15, "titleFontWeight": "normal", "titleColor": "black", "titlePadding": 10,
                "labelFontSize": 16, "labelColor": "#222222", "labelOffset": 22, "padding": 0
              }
            }
          }
        }
      ]
    },
    {
      "width": 323, "height": 199,
      "data": {"values": [{"letter": "E", "x": 0, "y": 1670}, {"letter": "F", "x": 868, "y": 1671}]},
      "mark": {"type": "text", "fontSize": 25, "fontWeight": "bold", "color": "black", "align": "left"},
      "encoding": {
        "x": {"field": "x", "type": "quantitative", "scale": {"domain": [1183, 1506], "nice": false, "zero": false}, "axis": null},
        "y": {"field": "y", "type": "quantitative", "scale": {"domain": [1539, 1738], "reverse": true, "nice": false, "zero": false}, "axis": null},
        "text": {"field": "letter"}
      }
    },
    {
      "width": 323, "height": 623,
      "view": {"stroke": "#333333", "strokeWidth": 1.6, "fill": "white"},
      "title": {"text": "Top 20 of KEGG Enrichment", "frame": "group", "fontSize": 25.5, "fontWeight": "normal", "color": "black", "anchor": "middle", "offset": 9},
      "resolve": {
        "scale": {"x": "independent", "y": "independent", "color": "independent", "shape": "independent", "size": "independent"},
        "axis": {"x": "independent", "y": "independent"},
        "legend": {"color": "independent", "size": "independent", "shape": "independent"}
      },
      "layer": [
        {
          "data": {"name": "edgesE"},
          "transform": [
            {"lookup": "s", "from": {"data": {"name": "nodesE"}, "key": "id", "fields": ["x", "y"]}, "as": ["sx", "sy"]},
            {"lookup": "t", "from": {"data": {"name": "nodesE"}, "key": "id", "fields": ["x", "y"]}, "as": ["tx", "ty"]}
          ],
          "mark": {"type": "rule", "color": "#8a8a8a", "strokeWidth": 2.4},
          "encoding": {
            "x": {"field": "sx", "type": "quantitative", "scale": {"domain": [1183, 1506], "nice": false, "zero": false}, "axis": null},
            "y": {"field": "sy", "type": "quantitative", "scale": {"domain": [1738, 2361], "reverse": true, "nice": false, "zero": false}, "axis": null},
            "x2": {"field": "tx"},
            "y2": {"field": "ty"}
          }
        },
        {
          "data": {"name": "nodesE"},
          "mark": {"type": "point", "filled": true, "opacity": 1, "size": 3364, "strokeWidth": 0},
          "encoding": {
            "x": {"field": "x", "type": "quantitative", "scale": {"domain": [1183, 1506], "nice": false, "zero": false}, "axis": null},
            "y": {"field": "y", "type": "quantitative", "scale": {"domain": [1738, 2361], "reverse": true, "nice": false, "zero": false}, "axis": null},
            "shape": {"field": "type", "type": "nominal", "scale": {"domain": ["mirna", "lnc", "mrna"], "range": ["M0,-0.89L1,0.89L-1,0.89Z", "M-1,-0.8L0,-0.3L1,-0.8L0,0.8Z", "M-1,0A1,0.88,0,1,1,1,0A1,0.88,0,1,1,-1,0Z"]}, "legend": null},
            "color": {"field": "type", "type": "nominal", "scale": {"domain": ["mirna", "lnc", "mrna"], "range": ["#EE44EE", "#33DDDD", "#EE3B36"]}, "legend": null}
          }
        },
        {
          "data": {"name": "nodesE"},
          "mark": {"type": "text", "fontSize": 17.5, "color": "#1a1a1a"},
          "encoding": {
            "x": {"field": "x", "type": "quantitative", "scale": {"domain": [1183, 1506], "nice": false, "zero": false}, "axis": null},
            "y": {"field": "y", "type": "quantitative", "scale": {"domain": [1738, 2361], "reverse": true, "nice": false, "zero": false}, "axis": null},
            "text": {"field": "id"}
          }
        },
        {
          "data": {"name": "keggF"},
          "mark": {"type": "circle", "opacity": 1},
          "encoding": {
            "x": {
              "field": "RichFactor", "type": "quantitative",
              "scale": {"domain": [-0.0562, 0.0867], "nice": false, "zero": false},
              "axis": {
                "title": "RichFactor",
                "values": [-0.05, -0.025, 0, 0.025, 0.05, 0.075],
                "labelExpr": "abs(datum.value/0.05 - round(datum.value/0.05)) < 0.01 ? replace(format(datum.value, '.2f'), '−', '-') : ''",
                "tickOpacity": {"condition": {"test": "abs(datum.value/0.05 - round(datum.value/0.05)) < 0.01", "value": 1}, "value": 0},
                "gridWidth": {"condition": {"test": "abs(datum.value/0.05 - round(datum.value/0.05)) < 0.01", "value": 1.2}, "value": 0.6},
                "gridColor": "#EBEBEB",
                "domain": false,
                "tickColor": "#333333", "tickSize": 4, "tickWidth": 1.2,
                "labelFontSize": 18, "labelColor": "#4D4D4D", "labelPadding": 2, "labelFlush": false, "labelOverlap": false,
                "titleFontSize": 20, "titleFontWeight": "normal", "titleColor": "black", "titlePadding": 2
              }
            },
            "y": {
              "field": "pathway", "type": "nominal", "sort": null,
              "scale": {"type": "point", "padding": 0.6},
              "axis": {
                "title": "Pathway", "titleX": -417, "titleY": 311.5, "titleAngle": 270, "titleAlign": "center", "titleBaseline": "middle",
                "titleFontSize": 20, "titleFontWeight": "normal", "titleColor": "black",
                "labelFontSize": 17.5, "labelColor": "#4D4D4D", "labelLimit": 700, "labelPadding": 3,
                "tickColor": "#333333", "tickSize": 4, "tickWidth": 1.2,
                "gridColor": "#EBEBEB", "gridWidth": 1.2, "domain": false
              }
            },
            "color": {
              "field": "qvalue", "type": "quantitative",
              "scale": {"domain": [0.032, 0.472], "range": ["#FF0000", "#0000FF"], "interpolate": "lab"},
              "legend": {
                "title": "qvalue", "orient": "none", "legendX": 347, "legendY": 282, "direction": "vertical",
                "gradientLength": 110, "gradientThickness": 23, "gradientStrokeWidth": 0,
                "titleFontSize": 15, "titleFontWeight": "normal", "titleColor": "black", "titlePadding": 6,
                "labelFontSize": 16, "labelColor": "#222222", "labelOffset": 7, "labelOverlap": false,
                "values": [0.1, 0.2, 0.3, 0.4], "format": ".1f", "padding": 0
              }
            },
            "size": {
              "field": "GeneNumber", "type": "quantitative",
              "scale": {"domain": [0, 1], "range": [0, 36]},
              "legend": {
                "title": "GeneNumber", "orient": "none", "legendX": 347, "legendY": 211,
                "values": [1], "format": ".0f", "symbolType": "circle", "symbolFillColor": "black", "symbolStrokeColor": "black", "symbolStrokeWidth": 0,
                "titleFontSize": 15, "titleFontWeight": "normal", "titleColor": "black", "titlePadding": 10,
                "labelFontSize": 16, "labelColor": "#222222", "labelOffset": 22, "padding": 0
              }
            }
          }
        }
      ]
    }
  ]
}
